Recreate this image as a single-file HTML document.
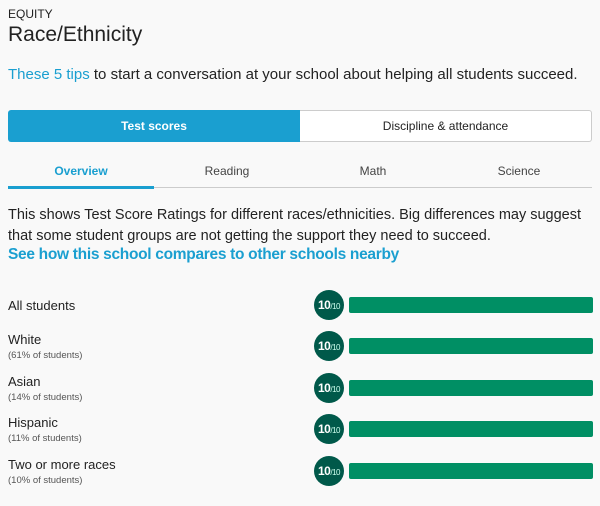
<!DOCTYPE html>
<html><head><style>
body{margin:0;background:#f9f9f9;font-family:"Liberation Sans",sans-serif;color:#222;width:600px;height:506px;overflow:hidden;position:relative}
.a{position:absolute;white-space:nowrap}
.circ{position:absolute;left:314px;width:30px;height:30px;border-radius:50%;background:#00594a;color:#fff;font-weight:bold;font-size:12px;line-height:30px;text-align:center;letter-spacing:-0.5px}
.circ span{font-size:8px;font-weight:normal;color:#cfe}
.bar{position:absolute;left:349px;width:244px;height:16px;border-radius:2px;background:#008f64}
.lab{position:absolute;left:8px;font-size:13px;color:#222}
.sub{font-size:9.5px;color:#555;display:block;margin-top:3px}
</style></head><body>
<div class="a" style="left:8px;top:7px;font-size:12px">EQUITY</div>
<div class="a" style="left:8px;top:23px;font-size:21px">Race/Ethnicity</div>
<div class="a" style="left:8px;top:66px;font-size:15px"><span style="color:#1a9fd0">These 5 tips</span> to start a conversation at your school about helping all students succeed.</div>
<div class="a" style="left:8px;top:110px;width:292px;height:32px;background:#1a9fd0;border-radius:3px 0 0 3px;color:#fff;font-weight:bold;font-size:12px;line-height:32px;text-align:center">Test scores</div>
<div class="a" style="left:300px;top:110px;width:291px;height:30px;border:1px solid #ccc;border-left:none;background:#fff;border-radius:0 3px 3px 0;font-size:12px;line-height:30px;text-align:center">Discipline &amp; attendance</div>
<div class="a" style="left:8px;top:187px;width:584px;height:1px;background:#ccc"></div>
<div class="a" style="left:8px;top:186px;width:146px;height:3px;background:#1a9fd0"></div>
<div class="a" style="left:8px;top:164px;width:146px;text-align:center;font-size:12px;color:#1a9fd0;font-weight:bold">Overview</div>
<div class="a" style="left:154px;top:164px;width:146px;text-align:center;font-size:12px;color:#444">Reading</div>
<div class="a" style="left:300px;top:164px;width:146px;text-align:center;font-size:12px;color:#444">Math</div>
<div class="a" style="left:446px;top:164px;width:146px;text-align:center;font-size:12px;color:#444">Science</div>
<div class="a" style="left:8px;top:205px;font-size:14.5px;line-height:21px;white-space:normal;width:590px">This shows Test Score Ratings for different races/ethnicities. Big differences may suggest that some student groups are not getting the support they need to succeed.</div>
<div class="a" style="left:8px;top:246px;font-size:15.5px;color:#1a9fd0;font-weight:bold;letter-spacing:-0.3px">See how this school compares to other schools nearby</div>

<div class="lab" style="top:298px">All students</div>
<div class="lab" style="top:332px">White<span class="sub">(61% of students)</span></div>
<div class="lab" style="top:374px">Asian<span class="sub">(14% of students)</span></div>
<div class="lab" style="top:415px">Hispanic<span class="sub">(11% of students)</span></div>
<div class="lab" style="top:457px">Two or more races<span class="sub">(10% of students)</span></div>

<div class="circ" style="top:290px">10<span>/10</span></div><div class="bar" style="top:297px"></div>
<div class="circ" style="top:331px">10<span>/10</span></div><div class="bar" style="top:338px"></div>
<div class="circ" style="top:373px">10<span>/10</span></div><div class="bar" style="top:380px"></div>
<div class="circ" style="top:414px">10<span>/10</span></div><div class="bar" style="top:421px"></div>
<div class="circ" style="top:456px">10<span>/10</span></div><div class="bar" style="top:463px"></div>
</body></html>
